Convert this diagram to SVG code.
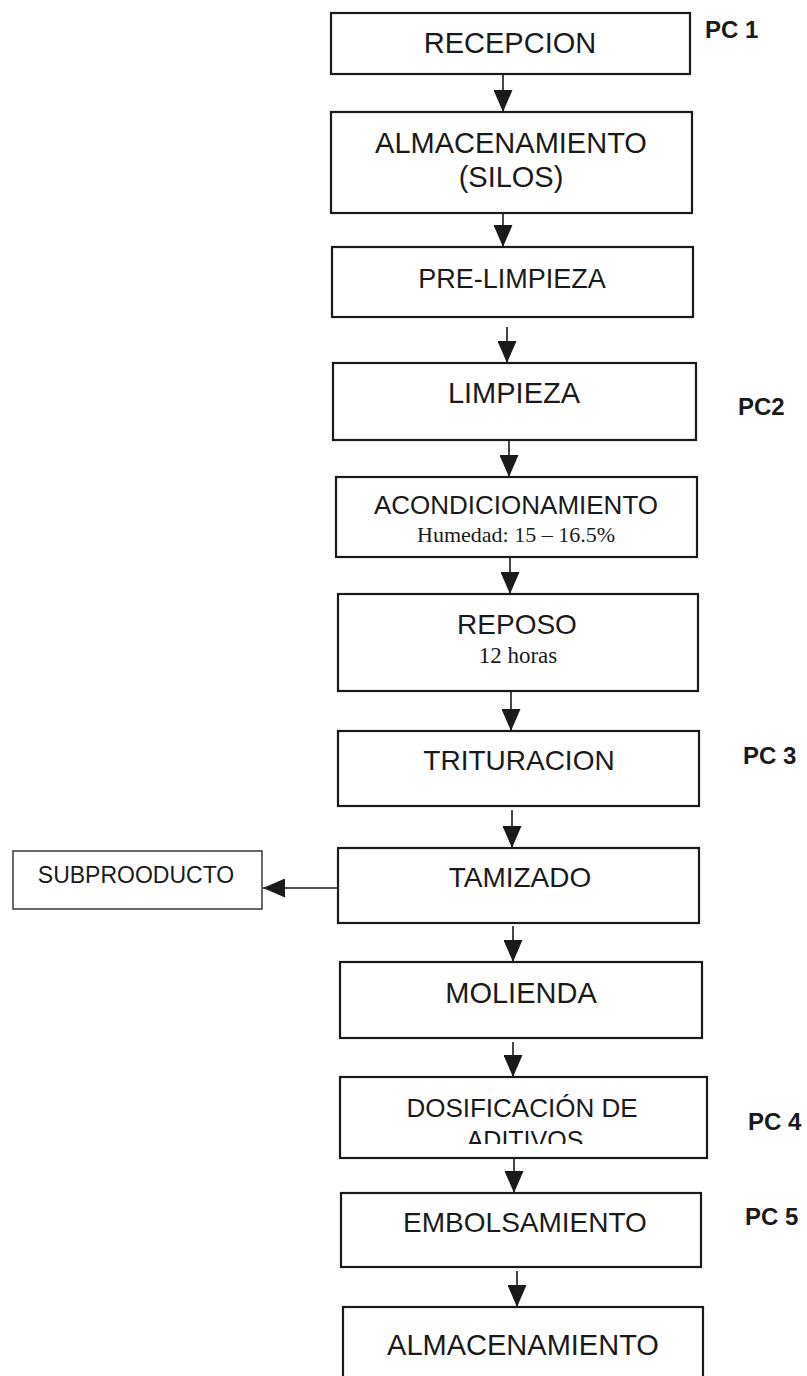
<svg xmlns="http://www.w3.org/2000/svg" width="807" height="1376" viewBox="0 0 807 1376">
<style>
.box{fill:#fff;stroke:#1a1a1a;stroke-width:2.2}
.sbox{fill:#fff;stroke:#2a2a2a;stroke-width:1.4}
.t{font-family:"Liberation Sans",Arial,sans-serif;fill:#1a1a1a;text-anchor:middle}
.s{font-family:"Liberation Serif","Times New Roman",serif;fill:#1a1a1a;text-anchor:middle}
.pc{font-family:"Liberation Sans",Arial,sans-serif;font-weight:bold;fill:#1a1a1a;font-size:24px}
.c{stroke:#1a1a1a;stroke-width:1.6;fill:none;marker-end:url(#ah)}
</style>
<defs>
<marker id="ah" viewBox="0 0 22 19" refX="22" refY="9.5" markerWidth="22" markerHeight="19" markerUnits="userSpaceOnUse" orient="auto">
<path d="M0,0 L22,9.5 L0,19 z" fill="#1a1a1a"/>
</marker>
<clipPath id="clipAd"><rect x="340" y="1077" width="367" height="67"/></clipPath>
</defs>
<rect width="807" height="1376" fill="#fff"/>
<g id="connectors">
<line class="c" x1="503" y1="74" x2="503" y2="112"/>
<line class="c" x1="503" y1="213" x2="503" y2="247"/>
<line class="c" x1="507" y1="327" x2="507" y2="363"/>
<line class="c" x1="509" y1="440" x2="509" y2="477"/>
<line class="c" x1="510" y1="557" x2="510" y2="594"/>
<line class="c" x1="511" y1="691" x2="511" y2="731"/>
<line class="c" x1="512" y1="810" x2="512" y2="848"/>
<line class="c" x1="513" y1="926" x2="513" y2="962"/>
<line class="c" x1="513" y1="1042" x2="513" y2="1077"/>
<line class="c" x1="514" y1="1158" x2="514" y2="1193"/>
<line class="c" x1="517" y1="1271" x2="517" y2="1307"/>
<line class="c" x1="338" y1="888" x2="263" y2="888"/>
</g>
<g id="recepcion"><rect class="box" x="331" y="13" width="359" height="61"/><text class="t" x="510" y="53" font-size="29">RECEPCION</text></g>
<g id="pc1"><text class="pc" x="705" y="38">PC 1</text></g>
<g id="almacenamiento-silos"><rect class="box" x="331" y="112" width="361" height="101"/><text class="t" x="511" y="153" font-size="29">ALMACENAMIENTO</text><text class="t" x="511" y="187" font-size="29">(SILOS)</text></g>
<g id="pre-limpieza"><rect class="box" x="332" y="247" width="361" height="70"/><text class="t" x="512" y="288" font-size="27">PRE-LIMPIEZA</text></g>
<g id="limpieza"><rect class="box" x="333" y="363" width="363" height="77"/><text class="t" x="514" y="403" font-size="29">LIMPIEZA</text></g>
<g id="pc2"><text class="pc" x="738" y="415">PC2</text></g>
<g id="acondicionamiento"><rect class="box" x="336" y="477" width="361" height="80"/><text class="t" x="516" y="514" font-size="26">ACONDICIONAMIENTO</text><text class="s" x="516" y="542" font-size="22">Humedad: 15 – 16.5%</text></g>
<g id="reposo"><rect class="box" x="338" y="594" width="360" height="97"/><text class="t" x="517" y="634" font-size="28">REPOSO</text><text class="s" x="518" y="663" font-size="23">12 horas</text></g>
<g id="trituracion"><rect class="box" x="338" y="731" width="361" height="75"/><text class="t" x="519" y="770" font-size="28">TRITURACION</text></g>
<g id="pc3"><text class="pc" x="743" y="764">PC 3</text></g>
<g id="tamizado"><rect class="box" x="338" y="848" width="361" height="75"/><text class="t" x="520" y="887" font-size="28">TAMIZADO</text></g>
<g id="subproducto"><rect class="sbox" x="13" y="851" width="249" height="58"/><text class="t" x="136" y="883" font-size="23">SUBPROODUCTO</text></g>
<g id="molienda"><rect class="box" x="340" y="962" width="362" height="76"/><text class="t" x="521" y="1003" font-size="29">MOLIENDA</text></g>
<g id="dosificacion"><rect class="box" x="340" y="1077" width="367" height="81"/><text class="t" x="522" y="1117" font-size="26">DOSIFICACIÓN DE</text><text class="t" x="525" y="1149" font-size="25" clip-path="url(#clipAd)">ADITIVOS</text></g>
<g id="pc4"><text class="pc" x="748" y="1130">PC 4</text></g>
<g id="embolsamiento"><rect class="box" x="341" y="1193" width="360" height="74"/><text class="t" x="525" y="1232" font-size="28">EMBOLSAMIENTO</text></g>
<g id="pc5"><text class="pc" x="745" y="1225">PC 5</text></g>
<g id="almacenamiento"><rect class="box" x="343" y="1307" width="360" height="80"/><text class="t" x="523" y="1355" font-size="29">ALMACENAMIENTO</text></g>
</svg>
